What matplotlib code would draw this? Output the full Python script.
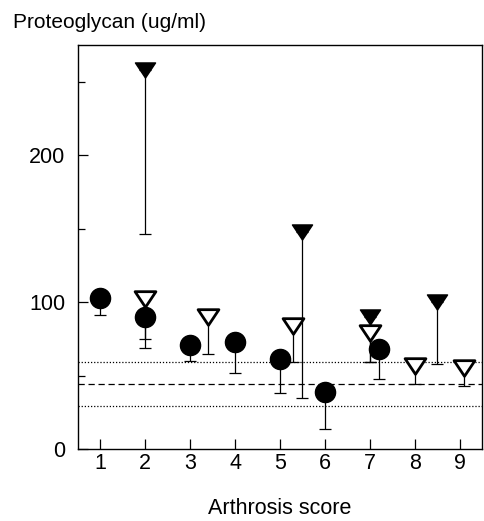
import numpy as np
import matplotlib.pyplot as plt
from matplotlib.path import Path
from matplotlib.ticker import MultipleLocator

plt.rcParams['font.family'] = ['Liberation Sans', 'DejaVu Sans']

# ---- data ----
# filled circles
circ_x = [1, 2, 3, 4, 5, 6, 7.2]
circ_y = [103, 90, 71, 73, 61, 39, 68]
circ_lo = [91, 69, 60, 52, 38, 14, 48]

# open down-triangles
open_x = [2, 3.4, 5.3, 7.0, 8.0, 9.1]
open_y = [102, 90, 84, 79, 56.5, 55]
open_lo = [75, 65, 59, 59, 44, 43]

# filled down-triangles
fill_x = [2, 5.5, 7.0, 8.5]
fill_y = [258, 148, 90, 100]
fill_lo = [146, 35, 59, 58]

# reference band
ref_mean = 44
ref_low = 29
ref_high = 59

x_ticks = [1, 2, 3, 4, 5, 6, 7, 8, 9]
y_ticks = [0, 100, 200]

# wide, flat down-pointing triangle
tri = Path([(-1, 0.75), (1, 0.75), (0, -0.75), (-1, 0.75)],
           [Path.MOVETO, Path.LINETO, Path.LINETO, Path.CLOSEPOLY])

fig = plt.figure(figsize=(4.84, 5.21), dpi=100)
ax = fig.add_axes([0.161, 0.138, 0.835, 0.776])

ax.axhline(ref_high, color='black', lw=0.9, ls=(0, (1, 1.5)), zorder=1)
ax.axhline(ref_mean, color='black', lw=0.9, ls=(0, (5, 3)), zorder=1)
ax.axhline(ref_low, color='black', lw=0.9, ls=(0, (1, 1.5)), zorder=1)


def series(x, y, lo, **mk):
    y = np.array(y, float)
    err = [y - np.array(lo, float), np.zeros_like(y)]
    ax.errorbar(x, y, yerr=err, fmt='none', ecolor='black', elinewidth=0.9,
                capsize=4.5, capthick=0.9, zorder=2)
    ax.plot(x, y, ls='none', zorder=3, **mk)


series(circ_x, circ_y, circ_lo, marker='o', ms=14.5, mfc='black', mec='black')
series(open_x, open_y, open_lo, marker=tri, ms=15, mfc='white', mec='black', mew=2)
series(fill_x, fill_y, fill_lo, marker=tri, ms=14.5, mfc='black', mec='black')

ax.set_xlim(0.5, 9.5)
ax.set_ylim(0, 275)
ax.set_xticks(x_ticks)
ax.set_yticks(y_ticks)
ax.yaxis.set_minor_locator(MultipleLocator(50))
ax.tick_params(axis='both', which='major', direction='in', length=7, width=0.9,
               labelsize=15.5)
ax.tick_params(axis='x', pad=3)
ax.tick_params(axis='y', pad=9)
ax.tick_params(axis='y', which='minor', direction='in', length=5, width=0.9)
for s in ax.spines.values():
    s.set_linewidth(1.0)

ax.set_xlabel('Arthrosis score', fontsize=15.5, labelpad=17)
fig.text(13 / 484, 1 - 28 / 521, 'Proteoglycan (ug/ml)', fontsize=15,
         ha='left', va='baseline')

fig.savefig('out.png', dpi=100)
